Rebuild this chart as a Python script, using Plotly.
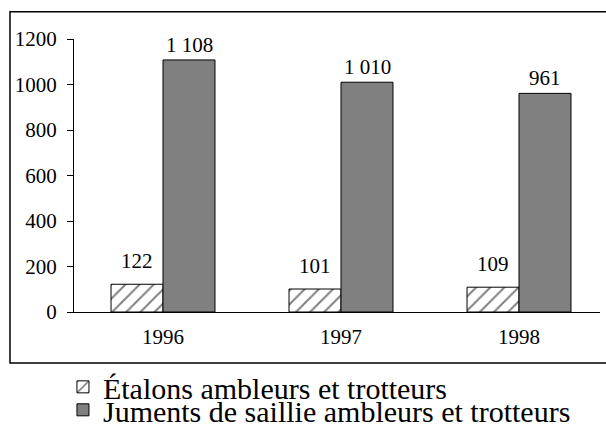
import plotly.graph_objects as go

years = ["1996", "1997", "1998"]
etalons = [122, 101, 109]
juments = [1108, 1010, 961]
etalons_labels = ["122", "101", "109"]
juments_labels = ["1 108", "1 010", "961"]
y_ticks = [0, 200, 400, 600, 800, 1000, 1200]

FONT = "Liberation Serif"
TS = 21

fig = go.Figure()
fig.add_trace(go.Bar(
    x=years, y=etalons, name="Étalons ambleurs et trotteurs", legend="legend",
    marker=dict(color="white", line=dict(color="black", width=1),
                pattern=dict(shape="/", fgcolor="black", bgcolor="white", size=10, solidity=0.2)),
))
fig.add_trace(go.Bar(
    x=years, y=juments, name="Juments de saillie ambleurs et trotteurs", legend="legend2",
    marker=dict(color="#808080", line=dict(color="black", width=1)),
))

for i, y in enumerate(years):
    fig.add_annotation(x=i, y=etalons[i], text=etalons_labels[i], xshift=-26, yshift=9,
                       yanchor="bottom", showarrow=False, font=dict(family=FONT, size=TS, color="black"))
    fig.add_annotation(x=i, y=juments[i], text=juments_labels[i], xshift=26, yshift=1,
                       yanchor="bottom", showarrow=False, font=dict(family=FONT, size=TS, color="black"))

# outer border (right edge runs past the page edge, as in the reference)
fig.add_shape(type="rect", xref="paper", yref="paper",
              x0=-0.1217, x1=1.03, y0=-0.1865, y1=1.1,
              line=dict(color="black", width=1.5), fillcolor="rgba(0,0,0,0)")

leg_common = dict(xanchor="left", yanchor="middle",
                  font=dict(family=FONT, size=30, color="black"),
                  itemwidth=30, bgcolor="rgba(0,0,0,0)")

fig.update_layout(
    width=606, height=431,
    margin=dict(l=74, r=6, t=38.5, b=119, autoexpand=False),
    paper_bgcolor="white", plot_bgcolor="white",
    barmode="group", bargap=0.416, bargroupgap=0,
    font=dict(family=FONT, size=TS, color="black"),
    showlegend=True,
    legend=dict(x=-0.021, y=-0.2742, **leg_common),
    legend2=dict(x=-0.021, y=-0.3583, **leg_common),
    xaxis=dict(type="category", range=[-0.5, 2.455], showline=True, linecolor="black",
               linewidth=1, ticks="", showgrid=False, tickfont=dict(family=FONT, size=TS),
               ticklabelstandoff=6),
    yaxis=dict(range=[0, 1200], tickvals=y_ticks, showline=True, linecolor="black", linewidth=1,
               ticks="outside", ticklen=6, tickcolor="black", showgrid=False, zeroline=False,
               tickfont=dict(family=FONT, size=TS), ticklabelstandoff=6),
)

fig.write_html("out.html", config={"displayModeBar": False},
               post_script="document.body.style.margin='0';document.body.style.padding='0';")
